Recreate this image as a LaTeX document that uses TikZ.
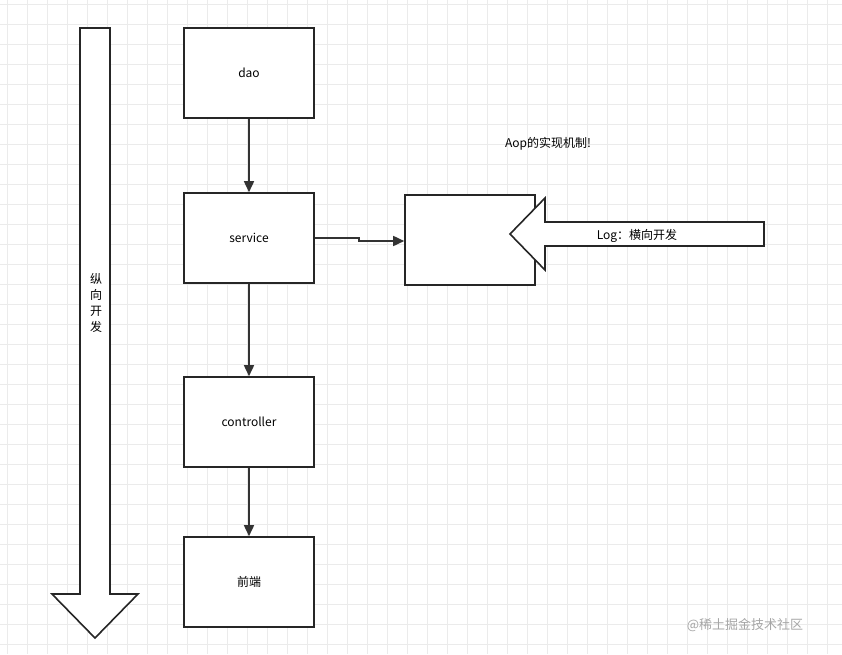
\documentclass[tikz,border=0pt]{standalone}
\usepackage{fontspec}
\setmainfont{Noto Sans CJK SC}
\usetikzlibrary{arrows.meta}
\begin{document}
\begin{tikzpicture}[x=1pt,y=-1pt,
  box/.style={draw=black!85,line width=1.6pt,fill=white,minimum width=130pt,minimum height=90pt,inner sep=0pt,font=\fontsize{12}{14}\selectfont},
  conn/.style={draw=black!80,line width=1.6pt,-{Triangle[length=11pt,width=10pt]}},
  fat/.style={draw=black!85,line width=1.6pt,fill=white,line join=miter}]
\useasboundingbox (0,0) rectangle (842,654);
\fill[white] (0,0) rectangle (842,654);
\foreach \i in {0,...,42} {\draw[black!8,line width=0.6pt] (7+20*\i,0) -- (7+20*\i,654);}
\foreach \i in {0,...,33} {\draw[black!8,line width=0.6pt] (0,4+20*\i) -- (842,4+20*\i);}
% vertical big arrow
\draw[fat] (80,28) -- (110,28) -- (110,594) -- (138,594) -- (95,638) -- (52,594) -- (80,594) -- cycle;
\node[font=\fontsize{12}{16}\selectfont,align=center,inner sep=0pt] (v) at (96,303) {纵\\向\\开\\发};
% boxes
\node[box] (dao) at (249,73) {dao};
\node[box] (svc) at (249,238) {service};
\node[box] (ctl) at (249,422) {controller};
\node[box] (fe) at (249,582) {前端};
\node[box] (aop) at (470,240) {};
\coordinate (k1) at (359,238);
\coordinate (k2) at (359,241);
\draw[conn] (dao) -- (svc);
\draw[conn] (svc) -- (ctl);
\draw[conn] (ctl) -- (fe);
\draw[conn] (svc.east) -- (k1) -- (k2) -- (aop.west|-k2);
% left arrow
\draw[fat] (764,222) -- (764,246) -- (545,246) -- (545,270) -- (510,234) -- (545,198) -- (545,222) -- cycle;
\node[font=\fontsize{12}{14}\selectfont,inner sep=0pt] (log) at (637,236) {Log：横向开发};
\node[font=\fontsize{12}{14}\selectfont,inner sep=0pt] (t) at (548,144) {Aop的实现机制!};
\node[font=\fontsize{13}{15}\selectfont,text=black!35,inner sep=0pt] (wm) at (745,625) {@稀土掘金技术社区};
\end{tikzpicture}
\end{document}
